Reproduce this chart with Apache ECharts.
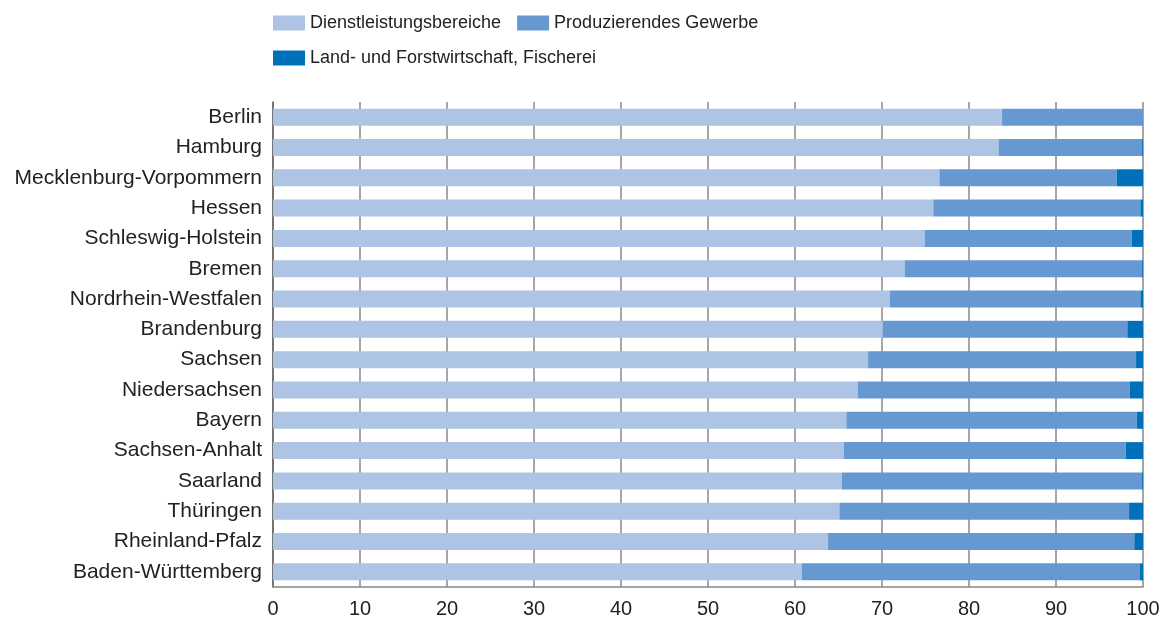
<!DOCTYPE html>
<html>
<head>
<meta charset="utf-8">
<script src="https://cdn.jsdelivr.net/npm/echarts@6/dist/echarts.min.js"></script>
<style>
html,body{margin:0;padding:0;background:#fff;}
#chart{width:1169px;height:619px;}
</style>
</head>
<body>
<div id="chart"></div>
<script>
// Bundesländer, von oben nach unten
var laender = ['Berlin', 'Hamburg', 'Mecklenburg-Vorpommern', 'Hessen', 'Schleswig-Holstein', 'Bremen',
  'Nordrhein-Westfalen', 'Brandenburg', 'Sachsen', 'Niedersachsen', 'Bayern', 'Sachsen-Anhalt',
  'Saarland', 'Thüringen', 'Rheinland-Pfalz', 'Baden-Württemberg'];
var dienstleistung = [83.8, 83.4, 76.6, 75.9, 74.9, 72.6, 70.9, 70.1, 68.4, 67.2, 65.9, 65.6, 65.4, 65.1, 63.8, 60.8];
var produzierend = [16.2, 16.5, 20.4, 23.8, 23.8, 27.3, 28.8, 28.1, 30.8, 31.3, 33.4, 32.4, 34.5, 33.3, 35.2, 38.8];
var landwirtschaft = [0.0, 0.1, 3.0, 0.3, 1.3, 0.1, 0.3, 1.8, 0.8, 1.5, 0.7, 2.0, 0.1, 1.6, 1.0, 0.4];
var xTicks = [0, 10, 20, 30, 40, 50, 60, 70, 80, 90, 100];

var namen = ['Dienstleistungsbereiche', 'Produzierendes Gewerbe', 'Land- und Forstwirtschaft, Fischerei'];
var farben = ['#adc4e5', '#6699d2', '#0070bb'];

var chart = echarts.init(document.getElementById('chart'));

function bar(name, data, color){
  return {
    name: name,
    type: 'bar',
    stack: 'gesamt',
    barWidth: 17,
    itemStyle: {color: color},
    data: data
  };
}

var legendText = {fontFamily: 'Liberation Sans, Arial, sans-serif', fontSize: 18, color: '#222'};

var option = {
  animation: false,
  color: farben,
  legend: [
    {
      data: [namen[0], namen[1]],
      left: 273, top: 14, padding: 0,
      icon: 'rect', itemWidth: 32, itemHeight: 15, itemGap: 16,
      textStyle: legendText
    },
    {
      data: [namen[2]],
      left: 273, top: 49, padding: 0,
      icon: 'rect', itemWidth: 32, itemHeight: 15,
      textStyle: legendText
    }
  ],
  grid: {left: 273, right: 26, top: 102, bottom: 32},
  xAxis: {
    type: 'value',
    min: 0, max: 100, interval: 10,
    axisLine: {show: true, lineStyle: {color: '#888', width: 1.5}},
    axisTick: {show: false},
    splitLine: {show: true, lineStyle: {color: '#888', width: 1.5}},
    axisLabel: {
      margin: 12,
      fontFamily: 'Liberation Sans Narrow, Arial Narrow, Liberation Sans, sans-serif',
      fontSize: 20, color: '#222',
      formatter: function(v){ return xTicks.indexOf(v) > -1 ? String(v) : ''; }
    }
  },
  yAxis: {
    type: 'category',
    inverse: true,
    data: laender,
    axisLine: {show: true, lineStyle: {color: '#666', width: 1.5}},
    axisTick: {show: false},
    axisLabel: {margin: 11, fontFamily: 'Liberation Sans, Arial, sans-serif', fontSize: 21, color: '#222'}
  },
  series: [
    bar(namen[0], dienstleistung, farben[0]),
    bar(namen[1], produzierend, farben[1]),
    bar(namen[2], landwirtschaft, farben[2])
  ]
};
chart.setOption(option);
</script>
</body>
</html>
